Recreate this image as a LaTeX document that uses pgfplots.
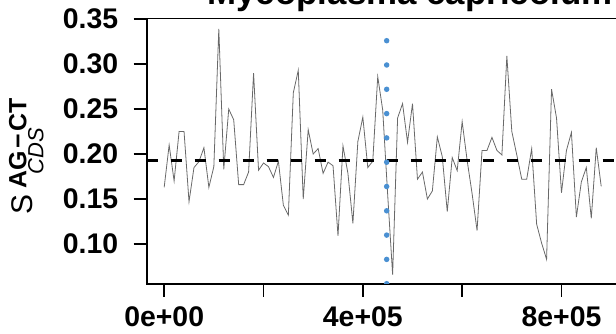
\documentclass[border=0pt]{standalone}
\usepackage{pgfplots}
\pgfplotsset{compat=1.18}
\usepackage{pgfplotstable}
\usepackage{fontspec}
\setmainfont{Liberation Sans}
\definecolor{dotblue}{RGB}{74,144,210}
\definecolor{linegray}{RGB}{105,105,105}
\pgfplotstableread{
x y
0 0.163
10000 0.210
20000 0.170
30000 0.225
40000 0.225
50000 0.147
60000 0.185
70000 0.1915
80000 0.207
90000 0.163
100000 0.186
110000 0.339
120000 0.183
130000 0.250
140000 0.238
150000 0.166
160000 0.166
170000 0.180
180000 0.290
190000 0.182
200000 0.190
210000 0.186
220000 0.174
230000 0.192
240000 0.143
250000 0.132
260000 0.268
270000 0.293
280000 0.150
290000 0.227
300000 0.200
310000 0.206
320000 0.1785
330000 0.191
340000 0.187
350000 0.109
360000 0.209
370000 0.1785
380000 0.123
390000 0.214
400000 0.241
410000 0.185
420000 0.192
430000 0.286
440000 0.249
450000 0.155
460000 0.066
470000 0.240
480000 0.256
490000 0.213
500000 0.256
510000 0.172
520000 0.180
530000 0.150
540000 0.159
550000 0.219
560000 0.197
570000 0.136
580000 0.196
590000 0.1815
600000 0.236
610000 0.193
620000 0.156
630000 0.115
640000 0.204
650000 0.204
660000 0.2185
670000 0.204
680000 0.199
690000 0.309
700000 0.225
710000 0.199
720000 0.172
730000 0.172
740000 0.206
750000 0.122
760000 0.101
770000 0.083
780000 0.272
790000 0.240
800000 0.157
810000 0.204
820000 0.224
830000 0.130
840000 0.169
850000 0.185
860000 0.1285
870000 0.207
880000 0.164
}\datatable
\begin{document}
\begin{tikzpicture}
\begin{axis}[
  at={(146.7bp,50.3bp)}, anchor=south west,
  scale only axis, width=472bp, height=265.2bp,
  xmin=-35200, xmax=915200, ymin=0.0559, ymax=0.3506,
  axis line style={line width=1.8bp},
  every tick/.style={line width=1.8bp, black},
  tick align=outside, major tick length=13bp,
  xtick={0,200000,400000,600000,800000},
  xticklabels={0e+00,,4e+05,,8e+05},
  ytick={0.10,0.15,0.20,0.25,0.30,0.35},
  yticklabels={0.10,0.15,0.20,0.25,0.30,0.35},
  scaled x ticks=false, scaled y ticks=false,
  tick label style={font=\fontsize{28.5}{30}\selectfont\bfseries},
  xticklabel style={yshift=-6bp},
  yticklabel style={xshift=-12bp},
  xtick pos=bottom, ytick pos=left,
  title={Mycoplasma capricolum},
  title style={font=\fontsize{35}{36}\selectfont\bfseries, at={(axis description cs:0.558,1.029)}, anchor=base, inner sep=0pt},
  ylabel={\fontsize{30}{32}\selectfont S\kern6bp\raisebox{6bp}{\rlap{\kern14bp\raisebox{-17bp}{\fontsize{22}{23}\selectfont\itshape CDS}}\fontsize{25}{26}\selectfont\bfseries AG\kern2.5bp−\kern2.5bp CT}},
  ylabel style={at={(axis description cs:-0.255,0.48)}, anchor=center, inner sep=0pt},
]
\addplot[linegray, line width=0.8bp] table[x=x,y=y] {\datatable};
\addplot[black, line width=3bp, dash pattern=on 11bp off 13bp] coordinates {(-35200,0.1933) (915200,0.1933)};
\addplot[dotblue, line width=5.5bp, line cap=round, dash pattern=on 0bp off 24.3bp] coordinates {(448000,0.0559) (448000,0.335)};
\end{axis}
\pgfresetboundingbox
\useasboundingbox (0,0) rectangle (616bp,334bp);
\end{tikzpicture}
\end{document}
